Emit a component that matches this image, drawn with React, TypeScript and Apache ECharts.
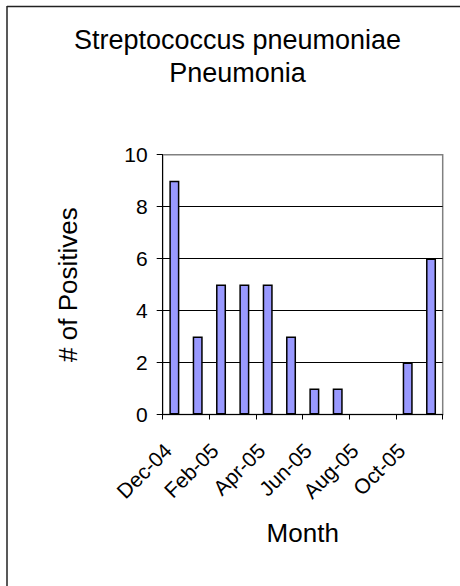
import React, { useEffect, useRef } from "react";
import * as echarts from "echarts";

const categories = ["Dec-04", "Jan-05", "Feb-05", "Mar-05", "Apr-05", "May-05", "Jun-05", "Jul-05", "Aug-05", "Sep-05", "Oct-05", "Nov-05"];
const positives = [9, 3, 5, 5, 5, 3, 1, 1, 0, 0, 2, 6];
const titleLines = ["Streptococcus pneumoniae", "Pneumonia"];
const yAxisName = "# of Positives";
const xAxisName = "Month";

const FONT = "'Liberation Sans', Arial, sans-serif";

export default function App() {
  const ref = useRef<HTMLDivElement>(null);
  useEffect(() => {
    if (!ref.current) return;
    const chart = echarts.init(ref.current, null, { renderer: "svg" });
    const barData = positives.map((v) => (v === 0 ? { value: v, itemStyle: { borderWidth: 0 } } : v));
    chart.setOption({
      animation: false,
      backgroundColor: "#fff",
      textStyle: { fontFamily: FONT },
      graphic: [
        { type: "line", shape: { x1: 7, y1: 6, x2: 7, y2: 586 }, style: { stroke: "#222", lineWidth: 1.5 } },
        { type: "line", shape: { x1: 7, y1: 6.5, x2: 460, y2: 6.5 }, style: { stroke: "#222", lineWidth: 1.5 } },
        { type: "text", x: 237.5, y: 39.7, style: { text: titleLines[0], fontSize: 27, fontFamily: FONT, fill: "#000", align: "center", verticalAlign: "middle" } },
        { type: "text", x: 237.5, y: 73.4, style: { text: titleLines[1], fontSize: 27, fontFamily: FONT, fill: "#000", align: "center", verticalAlign: "middle" } },
      ],
      grid: {
        left: 162.7,
        right: 17.3,
        top: 154.7,
        bottom: 171.5,
        show: true,
        borderColor: "#808080",
        borderWidth: 1.5,
        backgroundColor: "transparent",
      },
      xAxis: {
        type: "category",
        data: categories,
        name: xAxisName,
        nameLocation: "middle",
        nameGap: 105,
        nameTextStyle: { fontSize: 26, color: "#000", fontFamily: FONT },
        axisLine: { lineStyle: { color: "#000", width: 1 } },
        axisTick: { show: true, interval: 1, length: 5, lineStyle: { color: "#000" } },
        axisLabel: {
          interval: 1,
          rotate: 45,
          fontSize: 21,
          color: "#000",
          margin: 26,
          padding: [0, 9, 0, 0],
          fontFamily: FONT,
        },
        splitLine: { show: false },
      },
      yAxis: {
        type: "value",
        min: 0,
        max: 10,
        interval: 2,
        name: yAxisName,
        nameLocation: "middle",
        nameGap: 82,
        nameRotate: 90,
        nameTextStyle: { fontSize: 26, color: "#000", fontFamily: FONT },
        axisLine: { show: true, lineStyle: { color: "#000", width: 1 } },
        axisTick: { show: true, length: 6, lineStyle: { color: "#000" } },
        axisLabel: { fontSize: 21, color: "#000", margin: 15, fontFamily: FONT },
        splitLine: {
          show: true,
          lineStyle: { color: ["#000", "#000", "#000", "#000", "#000", "#808080"], width: 1 },
        },
      },
      series: [
        {
          type: "bar",
          data: barData,
          barWidth: 10,
          itemStyle: { color: "#9999FF", borderColor: "#000", borderWidth: 1.5 },
        },
      ],
    });
    return () => chart.dispose();
  }, []);
  return <div ref={ref} style={{ position: "absolute", left: 0, top: 0, width: 460, height: 586 }} />;
}
